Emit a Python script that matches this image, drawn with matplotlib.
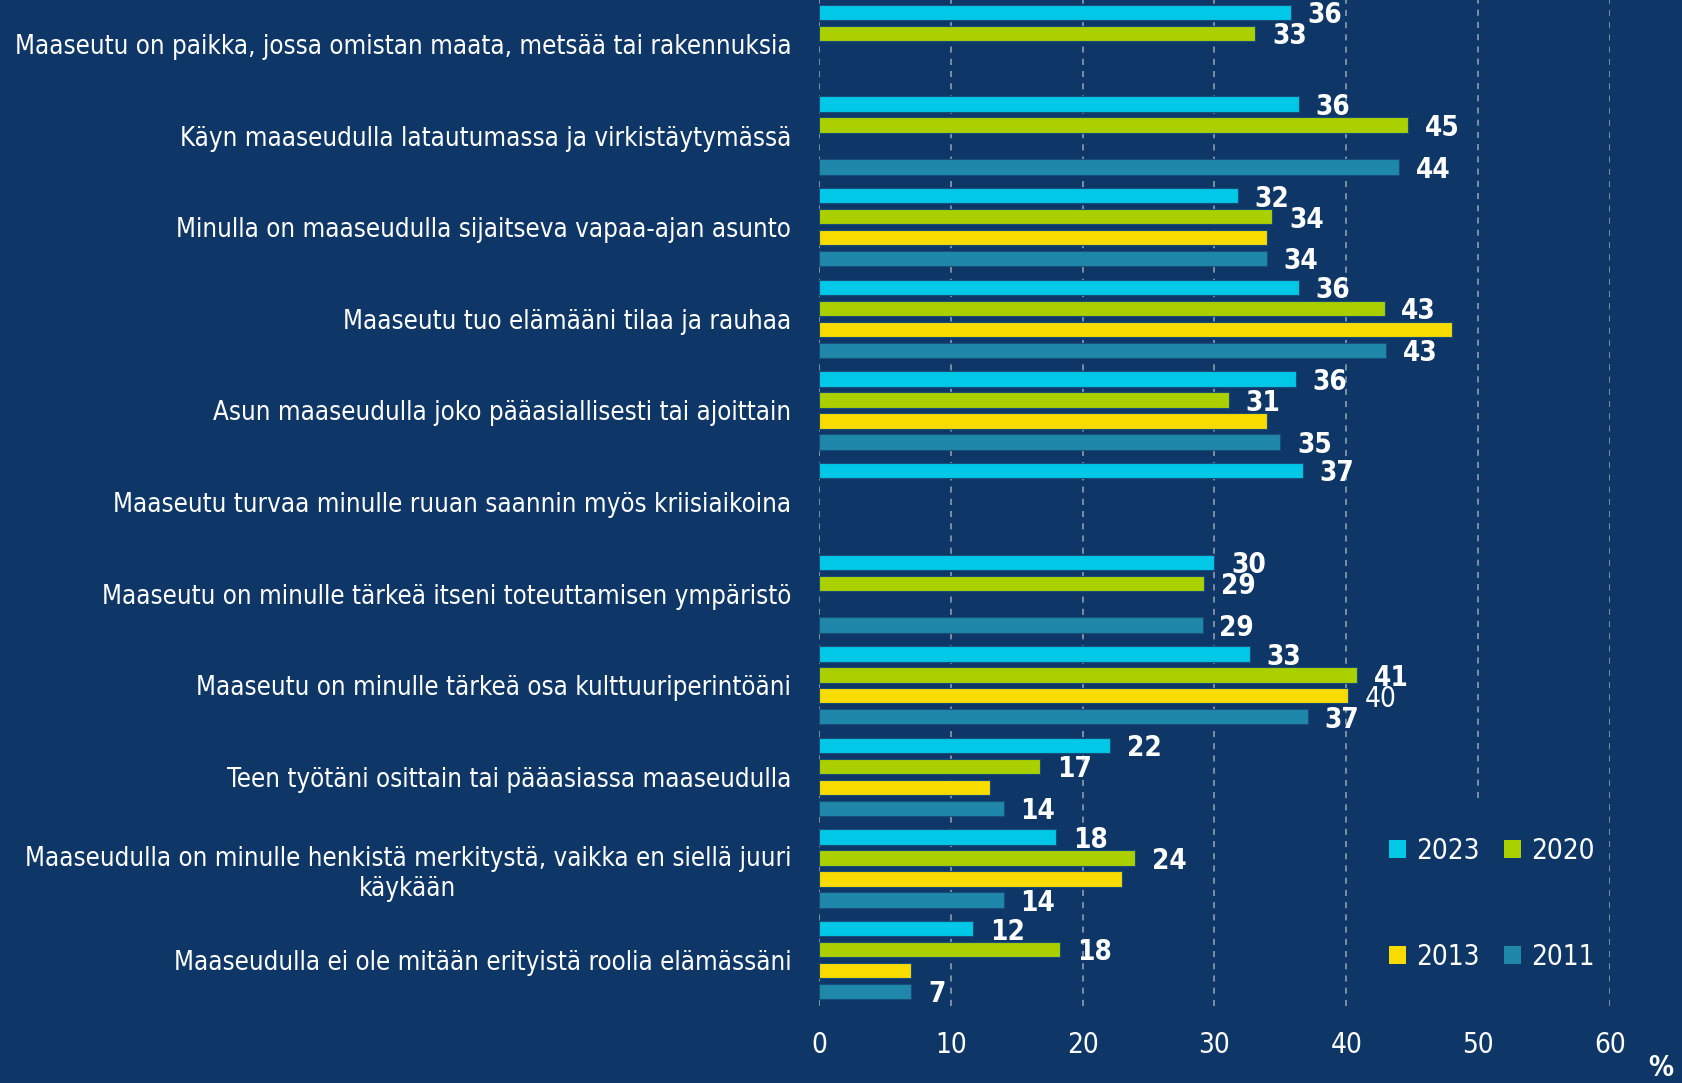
import numpy as np
import matplotlib
matplotlib.use("Agg")
import matplotlib.pyplot as plt
from matplotlib.patches import Patch
from matplotlib import font_manager as fm

# the original uses a narrow font; pick a condensed one if there is one
entries = fm.fontManager.ttflist
names = {f.name for f in entries}
if "Liberation Sans Narrow" in names:
    plt.rcParams['font.family'] = ['Liberation Sans Narrow', 'DejaVu Sans']
    cat_fs = 20
elif any(f.name == "DejaVu Sans" and str(f.stretch) == "condensed" for f in entries):
    plt.rcParams['font.family'] = ['DejaVu Sans']
    plt.rcParams['font.stretch'] = 'condensed'
    cat_fs = 18.5
else:
    plt.rcParams['font.family'] = ['DejaVu Sans']
    cat_fs = 15

categories = [
    "Maaseutu on paikka, jossa omistan maata, metsää tai rakennuksia",
    "Käyn maaseudulla latautumassa ja virkistäytymässä",
    "Minulla on maaseudulla sijaitseva vapaa-ajan asunto",
    "Maaseutu tuo elämääni tilaa ja rauhaa",
    "Asun maaseudulla joko pääasiallisesti tai ajoittain",
    "Maaseutu turvaa minulle ruuan saannin myös kriisiaikoina",
    "Maaseutu on minulle tärkeä itseni toteuttamisen ympäristö",
    "Maaseutu on minulle tärkeä osa kulttuuriperintöäni",
    "Teen työtäni osittain tai pääasiassa maaseudulla",
    "Maaseudulla on minulle henkistä merkitystä, vaikka en siellä juuri\nkäykään",
    "Maaseudulla ei ole mitään erityistä roolia elämässäni",
]

nan = np.nan
v2023 = [35.8, 36.4, 31.8, 36.4, 36.2, 36.7, 30.0, 32.7, 22.1, 18.0, 11.7]
v2020 = [33.1, 44.7, 34.4, 42.9, 31.1, nan, 29.2, 40.8, 16.8, 24.0, 18.3]
v2013 = [nan, nan, 34.0, 48.0, 34.0, nan, nan, 40.1, 13.0, 23.0, 7.0]
v2011 = [nan, 44.0, 34.0, 43.0, 35.0, nan, 29.1, 37.1, 14.0, 14.0, 7.0]
# only one 2013 value carries a label in the original
labels2013 = ["", "", "", "", "", "", "", "40", "", "", ""]

years = ["2023", "2020", "2013", "2011"]
colors = ["#00C8E6", "#AAD000", "#F8DC00", "#1F88AA"]
bg = "#0E3767"
fs = 20

fig = plt.figure(figsize=(16.83, 10.83), dpi=100, facecolor=bg)
ax = fig.add_axes([0.4866, 0.0711, 0.4700, 0.9289])
ax.set_facecolor(bg)

pos = np.arange(len(categories))
pitch = 0.2286
h = 0.168
series = [v2023, v2020, v2013, v2011]
handles = []
for j, (vals, col, yr) in enumerate(zip(series, colors, years)):
    y = pos + (j - 1.5) * pitch
    bars = ax.barh(y, vals, height=h, color=col, edgecolor="#1A4E7A",
                   linewidth=0.8, zorder=3)
    if yr == "2013":
        texts = ax.bar_label(bars, labels=labels2013, padding=12,
                             color="white", fontsize=fs)
    else:
        labs = ["" if np.isnan(v) else f"{v:.0f}" for v in vals]
        texts = ax.bar_label(bars, labels=labs, padding=12, color="white",
                             fontsize=fs, fontweight="bold")
    # labels sit a touch below the bar centre in the original
    for t in texts:
        t.xyann = (12, -2)
    handles.append(Patch(facecolor=col, label=yr))

ax.set_xlim(0, 60)
ax.set_ylim(10.5, -0.48)
ax.set_yticks(pos)
ax.set_yticklabels(categories, fontsize=cat_fs, color="white", ha="right",
                   multialignment="center")
ax.tick_params(axis="y", length=0, pad=20)
ax.set_xticks(range(0, 61, 10))
ax.tick_params(axis="x", length=0, colors="white", labelsize=fs, pad=18)
for s in ax.spines.values():
    s.set_visible(False)

for t in range(0, 61, 10):
    ymin = 0.207 if t == 50 else 0
    ax.axvline(t, ymin=ymin, color="#9AA5B5", lw=1.1, ls=(0, (4, 4)),
               zorder=1)

leg = ax.legend(handles=[handles[0], handles[2], handles[1], handles[3]],
                ncol=2, loc="lower right", bbox_to_anchor=(0.98, 0.035),
                borderaxespad=0, borderpad=0,
                frameon=False, fontsize=fs, labelcolor="white",
                handlelength=0.6, handleheight=0.6, handletextpad=0.35,
                columnspacing=0.9, labelspacing=2.8)

fig.text(0.987, 0.014, "%", color="white", fontsize=fs, fontweight="bold",
         ha="center", va="center")

fig.savefig("out.png", dpi=100, facecolor=bg)
